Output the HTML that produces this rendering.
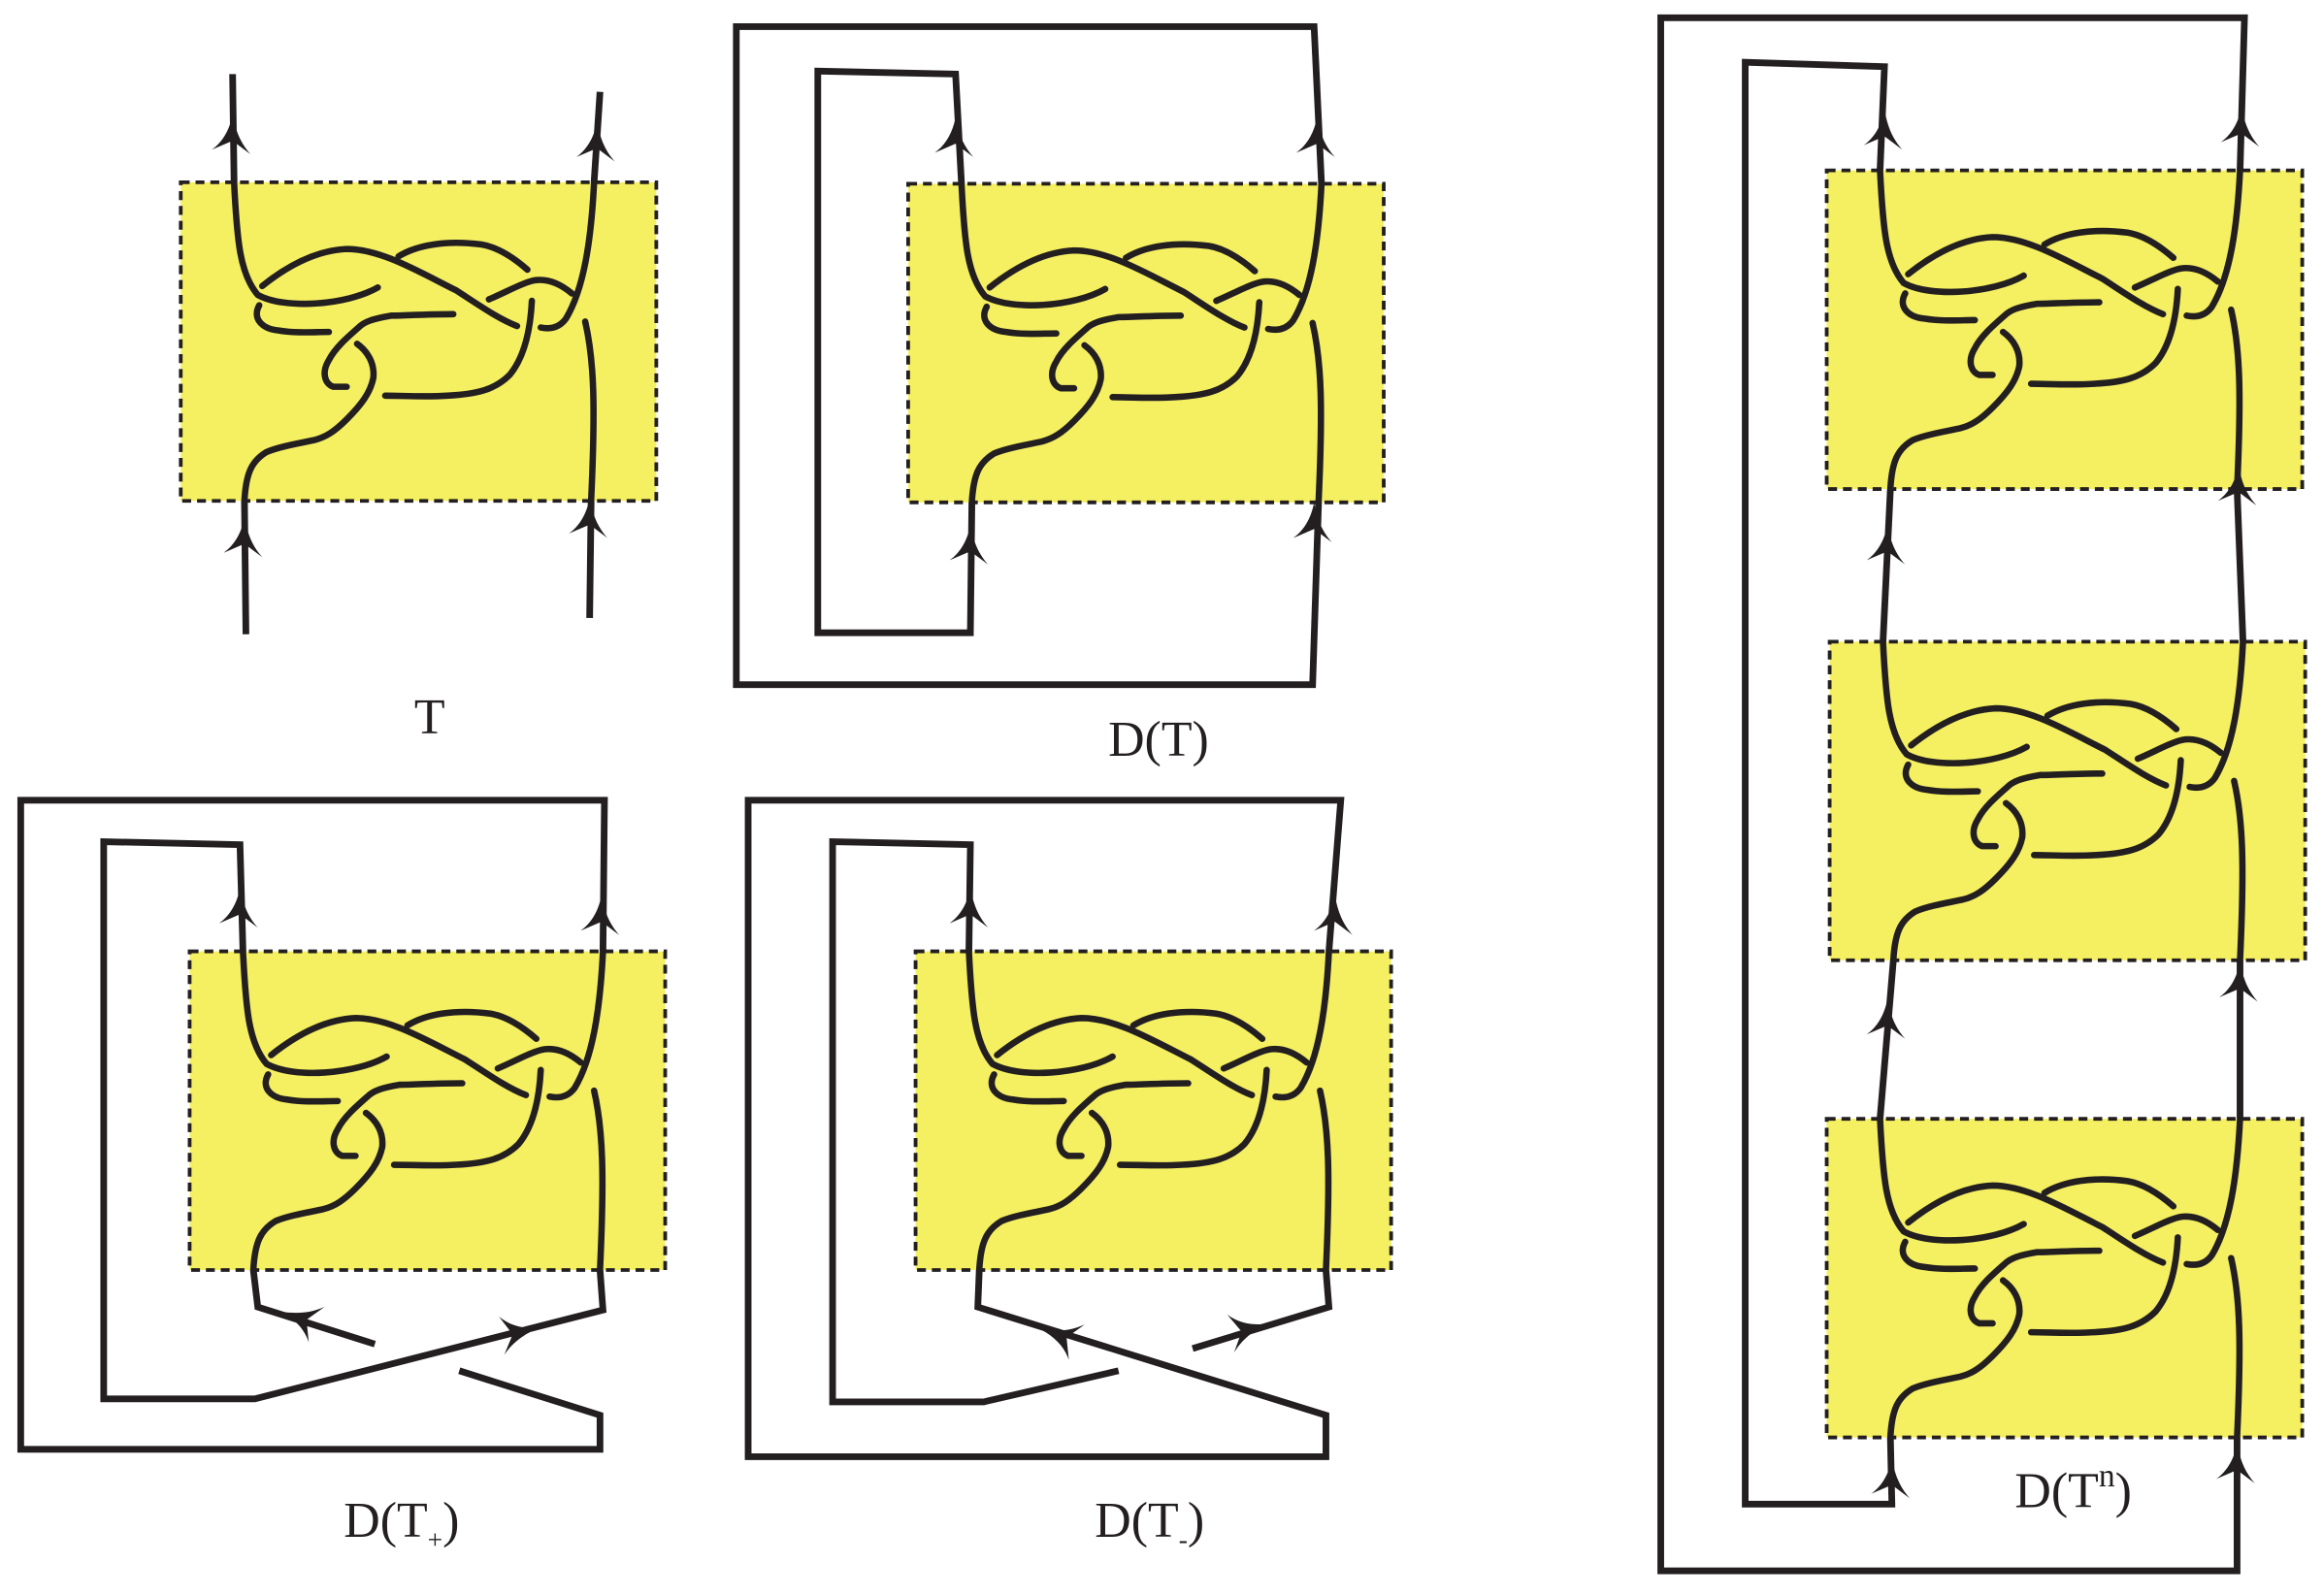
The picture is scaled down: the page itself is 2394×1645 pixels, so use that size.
<!DOCTYPE html>
<html><head><meta charset="utf-8"><style>html,body{margin:0;padding:0;background:#fff}svg{display:block}</style></head>
<body>
<svg width="2394" height="1645" viewBox="0 0 1568 1077" preserveAspectRatio="none" xmlns="http://www.w3.org/2000/svg">
<defs>
<path id="ar" d="M0,-16 C-2,-5 -7,3 -14,8 L0,2 L12,11 C5,3 2,-5 0,-16Z" fill="#231f20"/>
<g id="tg">
<rect x="0" y="0" width="321" height="215" fill="#f5ef62" stroke="#231f20" stroke-width="2.5" stroke-dasharray="6,4"/>
<g fill="none" stroke="#231f20" stroke-width="4.3" stroke-linecap="round">
<path d="M36,0 C38,40 40,62 52,76 C70,86 112,83 133,71"/>
<path d="M55,70 C70,58 90,46 112,45 C135,45 160,60 186,73 C200,82 214,92 227,97"/>
<path d="M147,50 C160,42 180,39 203,42 C215,44 226,52 234,59"/>
<path d="M53,83 C48,92 55,99 66,100 C78,102 90,101 100,101"/>
<path d="M208,79 C220,74 232,67 240,66 C250,65 258,70 264,75"/>
<path d="M279,0 C277,40 272,72 260,92 C255,99 248,99 243,98"/>
<path d="M237,80 C236,100 232,118 222,130 C212,140 200,143 180,144 C165,145 150,144 138,144"/>
<path d="M184,89 C165,89 150,90 142,90 C130,92 124,94 120,98 C112,105 104,112 100,120 C95,128 97,136 103,138 C106,138 109,138 112,138"/>
<path d="M119,109 C126,114 131,122 130,132 C128,142 122,150 112,160 C104,168 98,172 90,174 C75,177 65,179 58,182 C48,188 44,196 43,215"/>
<path d="M273,94 C279,120 280,150 277,215"/>
</g>
</g>
</defs>

<g fill="none" stroke="#231f20" stroke-width="4.5" stroke-linejoin="miter" stroke-linecap="butt">
<path d="M158,123 L157,50"/><path d="M401,123 L405,62"/>
<path d="M165,338 L166,428"/><path d="M399,338 L398,417"/>
<path d="M649,124 L645,50 L552,48 L552,427 L655,427 L656,339"/>
<path d="M892,124 L887,18 L497,18 L497,462 L886,462 L890,339"/>
<path d="M164,642 L162,570 L70,568 L70,944 L172,944 L407,884 L405,857"/>
<path d="M171,857 L174,882 L253,907"/>
<path d="M310,925 L405,955 L405,978 L14,978 L14,540 L408,540 L407,642"/>
<path d="M654,642 L655,570 L562,568 L562,946 L664,946 L755,925"/>
<path d="M661,857 L660,882 L895,955 L895,983 L505,983 L505,540 L905,540 L897,642"/>
<path d="M805,910 L897,882 L895,857"/>
<path d="M1269,115 L1272,45 L1178,42 L1178,1015 L1277,1015 L1276,970"/>
<path d="M1512,115 L1515,12 L1121,12 L1121,1060 L1510,1060 L1510,970"/>
<path d="M1276,330 L1271,433"/><path d="M1510,330 L1514,433"/>
<path d="M1278,648 L1269,755"/><path d="M1512,648 L1512,755"/>
</g>

<use href="#tg" transform="translate(122,123)"/>
<use href="#tg" transform="translate(613,124)"/>
<use href="#tg" transform="translate(128,642)"/>
<use href="#tg" transform="translate(618,642)"/>
<use href="#tg" transform="translate(1233,115)"/>
<use href="#tg" transform="translate(1235,433)"/>
<use href="#tg" transform="translate(1233,755)"/>

<use href="#ar" transform="translate(157,93)"/>
<use href="#ar" transform="translate(403,98)"/>
<use href="#ar" transform="translate(165,365)"/>
<use href="#ar" transform="translate(398,352)"/>
<use href="#ar" transform="translate(645,95)"/>
<use href="#ar" transform="translate(889,95)"/>
<use href="#ar" transform="translate(655,370)"/>
<use href="#ar" transform="translate(887,355)"/>
<use href="#ar" transform="translate(162,615)"/>
<use href="#ar" transform="translate(406,620)"/>
<use href="#ar" transform="translate(205,890) rotate(-72.4)"/>
<use href="#ar" transform="translate(348,900) rotate(75.7)"/>
<use href="#ar" transform="translate(655,615)"/>
<use href="#ar" transform="translate(901,620)"/>
<use href="#ar" transform="translate(718,902) rotate(-72.7)"/>
<use href="#ar" transform="translate(840,898) rotate(73)"/>
<use href="#ar" transform="translate(1272,90)"/>
<use href="#ar" transform="translate(1513,88)"/>
<use href="#ar" transform="translate(1274,370)"/>
<use href="#ar" transform="translate(1511,330)"/>
<use href="#ar" transform="translate(1274,690)"/>
<use href="#ar" transform="translate(1512,665)"/>
<use href="#ar" transform="translate(1277,1000)"/>
<use href="#ar" transform="translate(1510,990)"/>

<g font-family="Liberation Serif, serif" font-size="34" fill="#231f20">
<text x="290" y="495" text-anchor="middle">T</text>
<text x="782" y="510" text-anchor="middle">D(T)</text>
<text x="232" y="1037">D(T<tspan font-size="18" dy="8">+</tspan><tspan dy="-8">)</tspan></text>
<text x="739" y="1037">D(T<tspan font-size="18" dy="8">-</tspan><tspan dy="-8">)</tspan></text>
<text x="1360" y="1017">D(T<tspan font-size="22" dy="-14">n</tspan><tspan dy="14">)</tspan></text>
</g>
</svg>
</body></html>
